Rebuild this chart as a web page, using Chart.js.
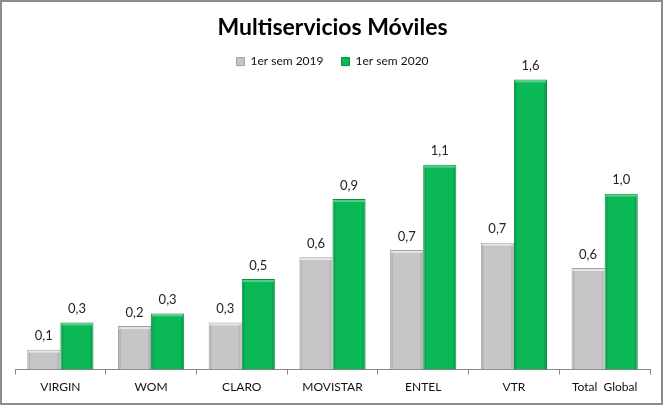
<!DOCTYPE html>
<html>
<head>
<meta charset="utf-8">
<script src="https://cdn.jsdelivr.net/npm/chart.js@4/dist/chart.umd.min.js"></script>
<style>
  html, body { margin: 0; padding: 0; background: #fff; }
  #wrap { width: 663px; height: 405px; box-sizing: border-box; border: 2px solid #8c8c8c; }
  canvas { display: block; }
</style>
</head>
<body>
<div id="wrap"><canvas id="chart" width="659" height="401"></canvas></div>
<script>
// categories and values
var categories = ['VIRGIN', 'WOM', 'CLARO', 'MOVISTAR', 'ENTEL', 'VTR', 'Total  Global'];
var sem2019 = [0.11, 0.24, 0.26, 0.62, 0.66, 0.70, 0.56];
var sem2020 = [0.26, 0.31, 0.50, 0.94, 1.13, 1.60, 0.97];
var seriesNames = ['1er sem 2019', '1er sem 2020'];

// bevel look: light top strip, darker sides
var bevel = {
    id: 'bevel',
    afterDatasetsDraw: function(chart) {
        var ctx = chart.ctx;
        var light = ['rgba(255,255,255,0.55)', 'rgba(255,255,255,0.3)'];
        var dark = ['rgba(0,0,0,0.08)', 'rgba(0,0,0,0.1)'];
        ctx.save();
        chart.data.datasets.forEach(function(ds, i) {
            chart.getDatasetMeta(i).data.forEach(function(bar) {
                var l = bar.x - bar.width / 2, r = bar.x + bar.width / 2;
                var t = bar.y, b = bar.base;
                ctx.fillStyle = light[i];
                ctx.fillRect(l + 1, t + 1, r - l - 2, 2);
                ctx.fillStyle = dark[i];
                ctx.fillRect(l + 1, t + 3, 2, b - t - 3);
                ctx.fillRect(r - 3, t + 3, 2, b - t - 3);
            });
        });
        ctx.restore();
    }
};

// draw the value above each bar, comma decimal
var valueLabels = {
    id: 'valueLabels',
    afterDatasetsDraw: function(chart) {
        var ctx = chart.ctx;
        ctx.save();
        ctx.font = '13px Lato';
        ctx.fillStyle = '#222';
        ctx.textAlign = 'center';
        ctx.textBaseline = 'bottom';
        chart.data.datasets.forEach(function(ds, i) {
            chart.getDatasetMeta(i).data.forEach(function(bar, j) {
                var txt = ds.data[j].toFixed(1).replace('.', ',');
                ctx.fillText(txt, bar.x, bar.y - 7);
            });
        });
        ctx.restore();
    }
};

var ctx = document.getElementById('chart').getContext('2d');
var chart = new Chart(ctx, {
    type: 'bar',
    data: {
        labels: categories,
        datasets: [{
            label: seriesNames[0],
            data: sem2019,
            backgroundColor: '#c6c6c6',
            borderColor: '#a0a0a0',
            borderWidth: 1
        }, {
            label: seriesNames[1],
            data: sem2020,
            backgroundColor: '#0bb856',
            borderColor: '#078f3f',
            borderWidth: 1
        }]
    },
    options: {
        responsive: false,
        animation: false,
        layout: { padding: { left: 13, right: 11, top: 0, bottom: 4 } },
        datasets: { bar: { categoryPercentage: 0.73, barPercentage: 1.0 } },
        plugins: {
            title: {
                display: true,
                text: 'Multiservicios Móviles',
                color: '#000',
                font: { family: 'Lato', size: 23, weight: 'bold' },
                padding: { top: 12, bottom: -4 }
            },
            legend: {
                display: true,
                labels: {
                    color: '#111',
                    font: { family: 'Lato', size: 12 },
                    boxWidth: 8,
                    boxHeight: 8,
                    padding: 18
                }
            },
            tooltip: { enabled: false }
        },
        scales: {
            x: {
                grid: { display: true, drawOnChartArea: false, drawTicks: true, tickLength: 5, offset: true, color: '#888' },
                border: { color: '#888' },
                ticks: { color: '#111', font: { family: 'Lato', size: 12 }, padding: 5 }
            },
            y: {
                display: false,
                min: 0,
                max: 1.61
            }
        }
    },
    plugins: [bevel, valueLabels]
});
</script>
</body>
</html>
